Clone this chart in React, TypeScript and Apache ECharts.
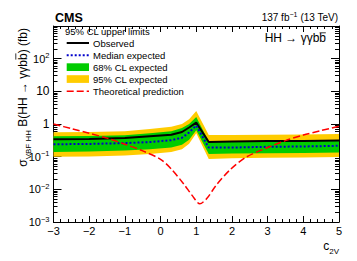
import React, { useEffect, useRef } from "react";
import * as echarts from "echarts";

// Grid of c2V points used for limits
const c2vGrid = [-3, -2, -1, -0.3, 0.3, 0.6, 0.8, 1, 1.35, 2, 3, 4, 5];
const observedLimit = [0.34, 0.35, 0.37, 0.42, 0.47, 0.57, 0.78, 1.1, 0.28, 0.29, 0.3, 0.3, 0.31];
const expectedLimit = [0.24, 0.245, 0.26, 0.28, 0.32, 0.38, 0.55, 0.9, 0.19, 0.19, 0.2, 0.205, 0.215];
const band68Low = [0.14, 0.145, 0.155, 0.17, 0.19, 0.23, 0.33, 0.64, 0.12, 0.125, 0.128, 0.13, 0.135];
const band68High = [0.42, 0.43, 0.45, 0.52, 0.6, 0.75, 1.0, 1.65, 0.29, 0.29, 0.3, 0.3, 0.31];
const band95Low = [0.1, 0.102, 0.108, 0.12, 0.14, 0.17, 0.25, 0.52, 0.085, 0.09, 0.092, 0.095, 0.097];
const band95High = [0.56, 0.57, 0.6, 0.7, 0.82, 1.0, 1.4, 2.5, 0.46, 0.46, 0.47, 0.48, 0.49];

// Theoretical prediction
const theoryC2v = [-3, -2.5, -2, -1.5, -1, -0.5, 0, 0.3, 0.65, 0.9, 1.1, 1.3, 1.55, 1.95, 2.4, 3, 3.5, 4, 4.5, 5];
const theoryXsec = [1.0, 0.72, 0.52, 0.37, 0.24, 0.15, 0.083, 0.042, 0.0145, 0.0062, 0.0036, 0.0053, 0.013, 0.04, 0.097, 0.19, 0.31, 0.46, 0.63, 0.85];

// Axis ticks
const yMajorTicks = [0.001, 0.01, 0.1, 1, 10, 100, 1000];
const yMinorTicks: number[] = [];
for (let e = -3; e < 3; e++) for (let m = 2; m <= 9; m++) yMinorTicks.push(m * Math.pow(10, e));

const FONT = "'Liberation Sans', Arial, Helvetica, sans-serif";
const YELLOW = "#FFCC00";
const GREEN = "#00CC00";
const BLUE = "#0000CC";
const RED = "#FF0000";

const pairs = (xs: number[], ys: number[]) => xs.map((x, i) => [x, ys[i]]);

function yLabel(v: number) {
  const e = Math.round(Math.log10(v));
  if (e === 3) return "";
  if (e === 0) return "1";
  if (e === 1) return "10";
  const s = e < 0 ? "\u2212" + -e : String(e);
  return `{b|10}{sup|${s}}`;
}

function bandSeries(name: string, lo: number[], hi: number[], color: string) {
  return {
    type: "custom",
    name,
    clip: true,
    silent: true,
    data: c2vGrid.map((x, i) => [x, lo[i], hi[i]]),
    encode: { x: 0, y: [1, 2] },
    renderItem: (params: any, api: any) => {
      if (params.dataIndex !== 0) return null;
      const pts: number[][] = [];
      for (let i = 0; i < c2vGrid.length; i++) pts.push(api.coord([c2vGrid[i], hi[i]]));
      for (let i = c2vGrid.length - 1; i >= 0; i--) pts.push(api.coord([c2vGrid[i], lo[i]]));
      return { type: "polygon", shape: { points: pts }, style: { fill: color } };
    },
  };
}

export default function App() {
  const ref = useRef<HTMLDivElement>(null);
  useEffect(() => {
    const chart = echarts.init(ref.current!, null, { renderer: "svg" });
    const yAxisBase = {
      type: "log" as const,
      logBase: 10,
      min: 0.001,
      max: 1000,
      splitLine: { show: false },
    };
    const xAxisBase = {
      type: "value" as const,
      min: -3,
      max: 5,
      interval: 1,
      splitLine: { show: false },
      axisLine: { show: true, onZero: false, lineStyle: { color: "#000", width: 1 } },
      axisTick: { show: true, inside: true, length: 6, lineStyle: { color: "#000" } },
      minorTick: { show: true, splitNumber: 5, length: 3, lineStyle: { color: "#000" } },
    };
    chart.setOption({
      animation: false,
      textStyle: { fontFamily: FONT },
      grid: { left: 53.5, right: 18, top: 26, bottom: 39, containLabel: false },
      xAxis: [
        {
          ...xAxisBase,
          position: "bottom",
          axisLabel: {
            show: true,
            margin: 3,
            fontSize: 11,
            color: "#000",
            fontFamily: FONT,
            formatter: (v: number) => (v < 0 ? "\u2212" + -v : String(v)),
          },
        },
        { ...xAxisBase, position: "top", axisLabel: { show: false } },
      ],
      yAxis: [
        {
          ...yAxisBase,
          position: "left",
          axisLine: { show: true, onZero: false, lineStyle: { color: "#000", width: 1 } },
          axisTick: { show: true, inside: true, length: 8, customValues: yMajorTicks, lineStyle: { color: "#000" } },
          axisLabel: {
            show: true,
            margin: 4,
            color: "#000",
            customValues: yMajorTicks,
            formatter: yLabel,
            rich: {
              b: { fontSize: 11, lineHeight: 14, fontFamily: FONT, color: "#000" },
              sup: { fontSize: 7.5, lineHeight: 8, verticalAlign: "top", fontFamily: FONT, color: "#000" },
            },
          },
        },
        {
          ...yAxisBase,
          position: "left",
          axisLine: { show: false, onZero: false },
          axisLabel: { show: false },
          axisTick: { show: true, inside: true, length: 4, customValues: yMinorTicks, lineStyle: { color: "#000" } },
        },
        {
          ...yAxisBase,
          position: "right",
          axisLine: { show: true, onZero: false, lineStyle: { color: "#000", width: 1 } },
          axisLabel: { show: false },
          axisTick: { show: true, inside: true, length: 8, customValues: yMajorTicks, lineStyle: { color: "#000" } },
        },
        {
          ...yAxisBase,
          position: "right",
          axisLine: { show: false, onZero: false },
          axisLabel: { show: false },
          axisTick: { show: true, inside: true, length: 4, customValues: yMinorTicks, lineStyle: { color: "#000" } },
        },
      ],
      series: [
        bandSeries("95% CL expected", band95Low, band95High, YELLOW),
        bandSeries("68% CL expected", band68Low, band68High, GREEN),
        {
          type: "line",
          name: "Observed",
          data: pairs(c2vGrid, observedLimit),
          symbol: "none",
          lineStyle: { color: "#000", width: 2 },
        },
        {
          type: "line",
          name: "Median expected",
          data: pairs(c2vGrid, expectedLimit),
          symbol: "none",
          lineStyle: { color: BLUE, width: 2, type: [2, 2] },
        },
        {
          type: "line",
          name: "Theoretical prediction",
          data: pairs(theoryC2v, theoryXsec),
          symbol: "none",
          smooth: 0.3,
          lineStyle: { color: RED, width: 1.5, type: [7, 3] },
        },
      ],
      graphic: [
        { type: "text", x: 55, y: 18, style: { text: "CMS", font: `bold 12.5px ${FONT}`, fill: "#000", verticalAlign: "middle", align: "left" } },
        {
          type: "text",
          x: 338,
          y: 17.5,
          style: {
            text: "137 fb{sup|\u22121} (13 TeV)",
            fontSize: 10,
            fontFamily: FONT,
            lineHeight: 13,
            fill: "#000",
            align: "right",
            verticalAlign: "middle",
            rich: { sup: { fontSize: 7, lineHeight: 7, verticalAlign: "top", fontFamily: FONT, fill: "#000" } },
          },
        },
        {
          type: "text",
          x: 326,
          y: 38,
          style: { text: "HH \u2192 \u03b3\u03b3bb", fontSize: 12, fontFamily: FONT, fill: "#000", align: "right", verticalAlign: "middle" },
        },
        { type: "line", shape: { x1: 319.6, y1: 32.8, x2: 325.8, y2: 32.8 }, style: { stroke: "#000", lineWidth: 0.8 } },
        // y-axis title
        {
          type: "text",
          x: 23,
          y: 28,
          rotation: Math.PI / 2,
          style: {
            text: "{s|\u03c3}{sub|VBF HH} B(HH \u2192 \u03b3\u03b3bb) (fb)",
            fontSize: 12,
            lineHeight: 18,
            fontFamily: FONT,
            fill: "#000",
            align: "right",
            verticalAlign: "middle",
            rich: {
              s: { fontSize: 12, lineHeight: 18, fontFamily: FONT, fill: "#000" },
              sub: { fontSize: 8, lineHeight: 8, verticalAlign: "bottom", fontFamily: FONT, fill: "#000" },
            },
          },
        },
        { type: "line", shape: { x1: 15.8, y1: 53.4, x2: 15.8, y2: 59.6 }, style: { stroke: "#000", lineWidth: 0.8 } },
        // x-axis title
        {
          type: "text",
          x: 339,
          y: 246,
          style: {
            text: "{c|c}{sub|2V}",
            fontSize: 12,
            lineHeight: 18,
            fontFamily: FONT,
            fill: "#000",
            align: "right",
            verticalAlign: "middle",
            rich: {
              c: { fontSize: 12, lineHeight: 18, fontFamily: FONT, fill: "#000" },
              sub: { fontSize: 8, lineHeight: 8, verticalAlign: "bottom", fontFamily: FONT, fill: "#000" },
            },
          },
        },
        // legend
        { type: "text", x: 65, y: 31.5, style: { text: "95% CL upper limits", fontSize: 9.5, fontFamily: FONT, fill: "#000", verticalAlign: "middle" } },
        { type: "line", shape: { x1: 66.7, y1: 43, x2: 89, y2: 43 }, style: { stroke: "#000", lineWidth: 2 } },
        { type: "text", x: 93, y: 43, style: { text: "Observed", fontSize: 9.5, fontFamily: FONT, fill: "#000", verticalAlign: "middle" } },
        { type: "line", shape: { x1: 66.7, y1: 55.3, x2: 89, y2: 55.3 }, style: { stroke: BLUE, lineWidth: 2, lineDash: [2, 2] } },
        { type: "text", x: 93, y: 55.3, style: { text: "Median expected", fontSize: 9.5, fontFamily: FONT, fill: "#000", verticalAlign: "middle" } },
        { type: "rect", shape: { x: 66.7, y: 63.3, width: 22.3, height: 7.7 }, style: { fill: GREEN } },
        { type: "text", x: 93, y: 67.2, style: { text: "68% CL expected", fontSize: 9.5, fontFamily: FONT, fill: "#000", verticalAlign: "middle" } },
        { type: "rect", shape: { x: 66.7, y: 75.2, width: 22.3, height: 7.7 }, style: { fill: YELLOW } },
        { type: "text", x: 93, y: 79.1, style: { text: "95% CL expected", fontSize: 9.5, fontFamily: FONT, fill: "#000", verticalAlign: "middle" } },
        { type: "line", shape: { x1: 66.7, y1: 91.3, x2: 89, y2: 91.3 }, style: { stroke: RED, lineWidth: 1.5, lineDash: [7, 3] } },
        { type: "text", x: 93, y: 91.3, style: { text: "Theoretical prediction", fontSize: 9.5, fontFamily: FONT, fill: "#000", verticalAlign: "middle" } },
      ],
    });
    return () => chart.dispose();
  }, []);
  return <div ref={ref} style={{ position: "absolute", left: 0, top: 0, width: 357, height: 261 }} />;
}
